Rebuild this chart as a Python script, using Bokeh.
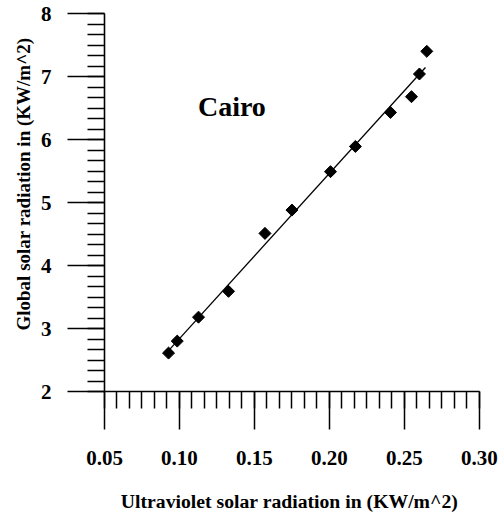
import numpy as np
from bokeh.plotting import figure
from bokeh.models import Label, Title, SingleIntervalTicker, PrintfTickFormatter, ColumnDataSource
from bokeh.embed import file_html
from bokeh.resources import INLINE

# Cairo: ultraviolet vs global solar radiation (KW/m^2)
uv = [0.0927, 0.0985, 0.1127, 0.1327, 0.1570, 0.1750, 0.2007, 0.2173, 0.2407, 0.2547, 0.2600, 0.2649]
glob = [2.61, 2.80, 3.18, 3.59, 4.51, 4.88, 5.49, 5.89, 6.43, 6.68, 7.04, 7.40]
fit_span = [0.0903, 0.264]

x_title = "Ultraviolet  solar radiation in (KW/m^2)"
y_title = "Global solar radiation in (KW/m^2)"
station = "Cairo"

FONT = "Liberation Serif"

p = figure(width=499, height=515, output_backend="svg", toolbar_location=None,
           x_range=(0.05, 0.30005), y_range=(2, 8.0005),
           min_border_left=104, min_border_right=20, min_border_top=13, min_border_bottom=124)
p.outline_line_color = None
p.xgrid.visible = False
p.ygrid.visible = False
p.background_fill_color = "white"
p.border_fill_color = "white"

# least-squares line through the observations
slope, intercept = np.polyfit(uv, glob, 1)
fx = np.array(fit_span)
p.line(fx, slope * fx + intercept, line_color="black", line_width=1.3)

src = ColumnDataSource(dict(x=uv, y=glob))
p.scatter("x", "y", source=src, marker="square", size=8.5, angle=np.pi / 4,
          fill_color="black", line_color="black")

p.xaxis.ticker = SingleIntervalTicker(interval=0.05, num_minor_ticks=6)
p.yaxis.ticker = SingleIntervalTicker(interval=1, num_minor_ticks=6)
p.xaxis.formatter = PrintfTickFormatter(format="%.2f")

for ax in (p.xaxis[0], p.yaxis[0]):
    ax.axis_line_width = 1.6
    ax.major_tick_line_width = 1.5
    ax.minor_tick_line_width = 1.5
    ax.major_tick_in = 0
    ax.minor_tick_in = 0
    ax.major_label_text_font = FONT
    ax.major_label_text_font_style = "bold"
    ax.major_label_text_font_size = "21px"
    ax.major_label_text_color = "black"

p.xaxis.major_tick_out = 38
p.xaxis.minor_tick_out = 17
p.xaxis.major_label_standoff = 21
p.xaxis.axis_label = x_title
p.xaxis.axis_label_text_font = FONT
p.xaxis.axis_label_text_font_style = "bold"
p.xaxis.axis_label_text_font_size = "19.7px"
p.xaxis.axis_label_text_color = "black"
p.xaxis.axis_label_standoff = 22

p.yaxis.major_tick_out = 37
p.yaxis.minor_tick_out = 17
p.yaxis.major_label_standoff = 16

# vertical title on the left, starting a little above the frame's bottom
p.add_layout(Title(text=y_title, align="left", offset=61, standoff=8,
                   text_font=FONT, text_font_style="bold", text_font_size="19px",
                   text_color="black"), "left")

p.add_layout(Label(x=0.1123, y=6.52, text=station, text_font=FONT, text_font_style="bold",
                   text_font_size="28px", text_color="black", text_baseline="alphabetic"))

open("out.html", "w").write(file_html(p, INLINE))
